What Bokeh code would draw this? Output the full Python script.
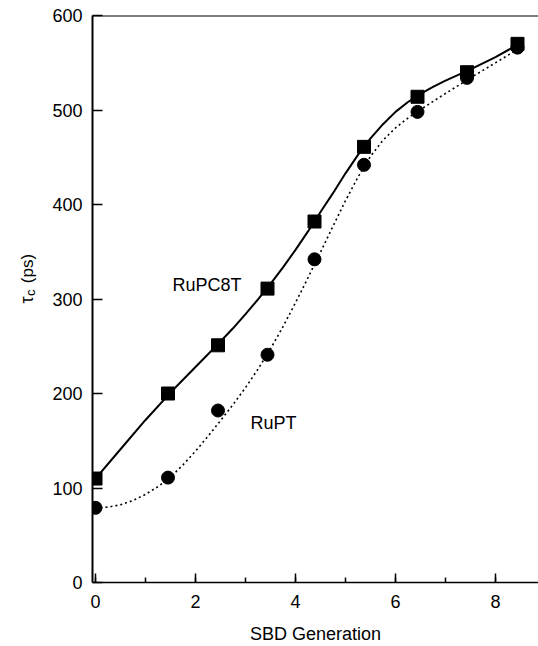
import math
from bokeh.plotting import figure
from bokeh.layouts import row
from bokeh.models import Label, Span, SingleIntervalTicker
from bokeh.embed import file_html
from bokeh.resources import INLINE

# ---- data ----
generation = [0, 1.45, 2.45, 3.44, 4.38, 5.37, 6.44, 7.43, 8.44]
rupc8t = [110, 200, 251, 311, 382, 461, 514, 540, 570]
rupt = [79, 111, 182, 241, 342, 442, 498, 534, 566]

# fitted curves as drawn in the reference
rupc8t_fit_x = [0, 0.5, 1, 1.5, 2, 2.5, 2.75, 3, 3.25, 3.5, 3.75, 4, 4.25, 4.5, 4.75,
                5, 5.25, 5.5, 5.75, 6, 6.25, 6.5, 6.75, 7, 7.5, 8, 8.44]
rupc8t_fit = [110, 141, 172, 201, 228, 255, 269, 284, 299.5, 316, 333.5, 352, 371.5, 392, 412,
              433, 452.5, 470, 485, 498, 508.5, 517, 524.5, 531, 543, 556, 569]
rupt_fit_x = [0, 0.25, 0.5, 0.75, 1, 1.25, 1.5, 1.75, 2, 2.25, 2.5, 2.75, 3, 3.25, 3.5, 3.75,
              4, 4.25, 4.5, 4.75, 5, 5.25, 5.5, 5.75, 6, 6.25, 6.5, 7, 7.5, 8, 8.44]
rupt_fit = [79, 79.75, 82.25, 86.75, 93.25, 101.5, 111.5, 124.5, 139, 154.75, 171.25, 188.25,
            206.25, 225.75, 247.25, 270.75, 296, 322.5, 349.5, 377, 404, 429, 451, 468, 481,
            491.5, 500.5, 517.5, 534, 550, 564]

series_names = ["RuPC8T", "RuPT"]
name_x = [1.54, 3.1]
name_y = [315, 169]

y_title_parts = ["τ", "c", "(ps)"]

FONT = "Liberation Sans"

# ---- narrow strip holding the rotated y-axis title ----
strip = figure(width=40, height=646, x_range=(0, 40), y_range=(0, 646),
               output_backend="svg", toolbar_location=None,
               x_axis_type=None, y_axis_type=None,
               min_border_left=0, min_border_right=0, min_border_top=0, min_border_bottom=0)
strip.outline_line_color = None
strip.grid.visible = False
strip.background_fill_color = "white"
strip.border_fill_color = "white"
title_x = [26.5, 29.5, 26.5]
title_y = [318, 326.5, 341]
title_size = ["18px", "13px", "17px"]
for t, x, y, fs in zip(y_title_parts, title_x, title_y, title_size):
    strip.add_layout(Label(x=x, y=y, text=t, text_font=FONT, text_font_size=fs,
                           angle=math.pi / 2, text_align="left",
                           text_baseline="alphabetic", text_color="black"))

# ---- main chart ----
p = figure(width=498, height=646, x_range=(-0.06, 8.86), y_range=(0, 600),
           output_backend="svg", toolbar_location=None,
           min_border_left=52, min_border_right=0, min_border_top=15, min_border_bottom=63)
p.outline_line_color = None
p.grid.visible = False
p.background_fill_color = "white"
p.border_fill_color = "white"

# curves
p.line(rupc8t_fit_x, rupc8t_fit, line_color="black", line_width=2)
p.line(rupt_fit_x, rupt_fit, line_color="black", line_width=1.6, line_dash="2 3")

# markers
p.scatter(generation, rupc8t, marker="square", size=13, fill_color="black", line_color="black")
p.scatter(generation, rupt, marker="circle", size=13, fill_color="black", line_color="black")

# series names
for t, x, y in zip(series_names, name_x, name_y):
    p.add_layout(Label(x=x, y=y, text=t, text_font=FONT, text_font_size="18px",
                       text_align="left", text_baseline="middle", text_color="black"))

# top border line
p.add_layout(Span(location=600, dimension="width", line_color="black", line_width=2))

# x axis
xa = p.xaxis[0]
xa.ticker = SingleIntervalTicker(interval=2, num_minor_ticks=2)
xa.axis_line_width = 1.5
xa.axis_line_color = "black"
xa.major_tick_in = 9
xa.major_tick_out = 0
xa.minor_tick_in = 5
xa.minor_tick_out = 0
xa.major_tick_line_width = 1.5
xa.minor_tick_line_width = 1.5
xa.major_label_text_font = FONT
xa.major_label_text_font_size = "18px"
xa.major_label_text_color = "black"
xa.major_label_standoff = 12
xa.axis_label = "SBD Generation"
xa.axis_label_text_font = FONT
xa.axis_label_text_font_size = "18px"
xa.axis_label_text_font_style = "normal"
xa.axis_label_text_color = "black"
xa.axis_label_standoff = 13

# y axis
ya = p.yaxis[0]
ya.ticker = SingleIntervalTicker(interval=100, num_minor_ticks=0)
ya.axis_line_width = 2
ya.axis_line_color = "black"
ya.major_tick_in = 10
ya.major_tick_out = 0
ya.minor_tick_line_color = None
ya.major_tick_line_width = 1.5
ya.major_label_text_font = FONT
ya.major_label_text_font_size = "18px"
ya.major_label_text_color = "black"
ya.major_label_standoff = 10

layout = row(strip, p, spacing=0)
open("out.html", "w").write(file_html(layout, INLINE))
